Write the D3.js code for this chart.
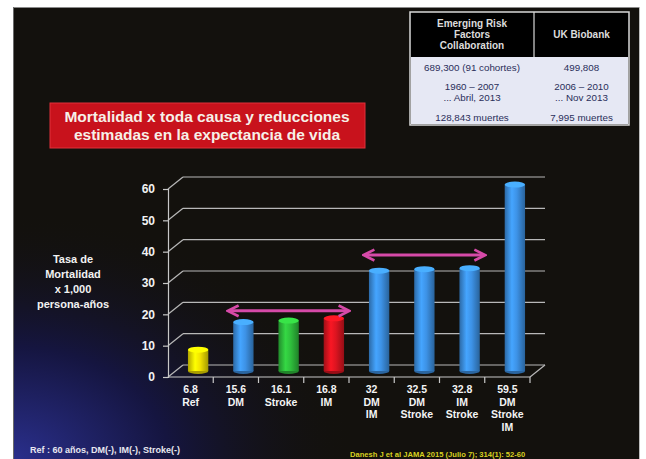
<!DOCTYPE html>
<html>
<head>
<meta charset="utf-8">
<script src="https://cdn.jsdelivr.net/npm/d3@7"></script>
<style>
  html, body { margin: 0; padding: 0; background: #fff; }
  svg { display: block; }
  text { font-family: "Liberation Sans", Arial, sans-serif; }
</style>
</head>
<body>
<svg id="chart" width="646" height="459"></svg>
<script>
// Mortality rate per 1,000 person-years by condition group
const categories = ["Ref", "DM", "Stroke", "IM", "DM IM", "DM Stroke", "IM Stroke", "DM Stroke IM"];
const valueLabels = ["6.8", "15.6", "16.1", "16.8", "32", "32.5", "32.8", "59.5"];
const values = [6.8, 15.6, 16.1, 16.8, 32, 32.5, 32.8, 59.5];
const barColors = ["#f2e200", "#3d92e6", "#2fbf3c", "#dc1420", "#3d92e6", "#3d92e6", "#3d92e6", "#3d92e6"];
const yTicks = [0, 10, 20, 30, 40, 50, 60];
const yTitle = ["Tasa de", "Mortalidad", "x 1,000", "persona-años"];

// Summary table of the two cohorts
const tableHeader = [["Emerging Risk", "Factors", "Collaboration"], ["UK Biobank"]];
const tableRows = [
  [["689,300  (91 cohortes)"], ["499,808"]],
  [["1960  –  2007", "... Abril, 2013"], ["2006  –  2010", "... Nov 2013"]],
  [["128,843  muertes"], ["7,995  muertes"]]
];
const titleLines = ["Mortalidad  x toda causa y reducciones", "estimadas en la expectancia de vida"];
const footNote = "Ref :  60 años,  DM(-), IM(-), Stroke(-)";
const citation = "Danesh J et al JAMA 2015 (Julio 7); 314(1): 52-60";

// Groups joined by the pink double arrows (first, last category, level)
const brackets = [
  { from: "DM", to: "IM", level: 19.2 },
  { from: "DM IM", to: "IM Stroke", level: 37 }
];

const svg = d3.select("#chart");
const defs = svg.append("defs");

// Slide background with a blue glow in the lower left
const bg = defs.append("radialGradient").attr("id", "glow")
  .attr("cx", 0.0).attr("cy", 1.0).attr("r", 0.55);
bg.append("stop").attr("offset", "0%").attr("stop-color", "#2a2f8c");
bg.append("stop").attr("offset", "45%").attr("stop-color", "#151540");
bg.append("stop").attr("offset", "100%").attr("stop-color", "#13110d").attr("stop-opacity", 0);

svg.append("rect").attr("x", 13).attr("y", 7).attr("width", 627).attr("height", 452)
  .attr("fill", "#13110d");
svg.append("rect").attr("x", 13).attr("y", 7).attr("width", 627).attr("height", 452)
  .attr("fill", "url(#glow)");
svg.append("line").attr("x1", 13).attr("x2", 640).attr("y1", 7.5).attr("y2", 7.5)
  .attr("stroke", "#8a8a8a").attr("stroke-width", 1);
svg.append("line").attr("x1", 13.5).attr("x2", 13.5).attr("y1", 7).attr("y2", 459)
  .attr("stroke", "#6a6a6a").attr("stroke-width", 1);
svg.append("line").attr("x1", 639.5).attr("x2", 639.5).attr("y1", 7).attr("y2", 459)
  .attr("stroke", "#bdbdbd").attr("stroke-width", 1);

// ---- Chart geometry ----
const depthX = 15, depthY = -12;   // offset from front plane to back wall
const x = d3.scaleBand().domain(categories).range([168, 530]);
const y = d3.scaleLinear().domain([0, 60]).range([377, 189]);

const chart = svg.append("g");

// Back wall gridlines and the diagonal links to the front axis
chart.append("g").selectAll("line.grid").data(yTicks).join("line")
  .attr("x1", 168 + depthX).attr("x2", 530 + depthX)
  .attr("y1", d => y(d) + depthY).attr("y2", d => y(d) + depthY)
  .attr("stroke", "#b8b8b8").attr("stroke-width", 1.2);
chart.append("g").selectAll("line.diag").data(yTicks).join("line")
  .attr("x1", 168).attr("x2", 168 + depthX)
  .attr("y1", d => y(d)).attr("y2", d => y(d) + depthY)
  .attr("stroke", "#b8b8b8").attr("stroke-width", 1.2);
// right edge of the floor
chart.append("line").attr("x1", 530).attr("x2", 530 + depthX)
  .attr("y1", y(0)).attr("y2", y(0) + depthY)
  .attr("stroke", "#b8b8b8").attr("stroke-width", 1.2);

// Front value axis
const yAxis = chart.append("g").attr("transform", "translate(168,0)")
  .call(d3.axisLeft(y).tickValues(yTicks).tickSize(5).tickPadding(8));
yAxis.select(".domain").attr("stroke", "#c8c8c8").attr("stroke-width", 1.2);
yAxis.selectAll(".tick line").attr("stroke", "#c8c8c8").attr("stroke-width", 1.2);
yAxis.selectAll(".tick text").attr("fill", "#f2f2f2").attr("font-size", 12)
  .attr("font-weight", "bold");

// Front floor edge with ticks at category boundaries
chart.append("line").attr("x1", 168).attr("x2", 530)
  .attr("y1", y(0)).attr("y2", y(0)).attr("stroke", "#c8c8c8").attr("stroke-width", 1.2);
const bounds = categories.map(c => x(c)).concat([x.range()[1]]).slice(1);
chart.append("g").selectAll("line.btick").data(bounds).join("line")
  .attr("x1", d => d).attr("x2", d => d)
  .attr("y1", y(0)).attr("y2", y(0) + 6)
  .attr("stroke", "#c8c8c8").attr("stroke-width", 1.2);

// Category labels: value on the first line, condition names below
const xAxis = chart.append("g").attr("transform", `translate(0,${y(0)})`)
  .call(d3.axisBottom(x).tickSize(0).tickPadding(0));
xAxis.select(".domain").remove();
xAxis.selectAll(".tick text").each(function (d, i) {
  const t = d3.select(this).text(null).attr("fill", "#f4f4f4")
    .attr("font-size", 10.5).attr("font-weight", "bold").attr("dy", null)
    .attr("y", 0);
  const lines = [valueLabels[i]].concat(d.split(" "));
  lines.forEach((s, k) => {
    t.append("tspan").attr("x", 0).attr("y", 16 + k * 12.5).text(s);
  });
});

// Cylinders
const shade = (id, c) => {
  const g = defs.append("linearGradient").attr("id", id).attr("x1", 0).attr("x2", 1);
  const base = d3.color(c);
  g.append("stop").attr("offset", "0%").attr("stop-color", base.darker(0.9));
  g.append("stop").attr("offset", "35%").attr("stop-color", base.brighter(0.35));
  g.append("stop").attr("offset", "60%").attr("stop-color", base);
  g.append("stop").attr("offset", "100%").attr("stop-color", base.darker(1.1));
};
barColors.forEach((c, i) => shade("cyl" + i, c));

const bw = x.bandwidth() * 0.45;
const bx = c => x(c) + x.bandwidth() / 2 + depthX / 2 - bw / 2;
const by = v => y(v) + depthY / 2;
const ry = 3;

const bars = chart.append("g").selectAll("g.bar").data(values).join("g");
bars.append("ellipse")
  .attr("cx", (d, i) => bx(categories[i]) + bw / 2).attr("cy", by(0))
  .attr("rx", bw / 2).attr("ry", ry)
  .attr("fill", (d, i) => d3.color(barColors[i]).darker(1));
bars.append("rect")
  .attr("x", (d, i) => bx(categories[i])).attr("width", bw)
  .attr("y", d => by(d)).attr("height", d => by(0) - by(d))
  .attr("fill", (d, i) => `url(#cyl${i})`);
bars.append("ellipse")
  .attr("cx", (d, i) => bx(categories[i]) + bw / 2).attr("cy", d => by(d))
  .attr("rx", bw / 2).attr("ry", ry)
  .attr("fill", (d, i) => d3.color(barColors[i]).brighter(0.5));

// Double-headed arrows over the grouped bars
const arrowColor = "#d64aa8";
defs.append("marker").attr("id", "head").attr("viewBox", "0 0 10 10")
  .attr("refX", 8).attr("refY", 5).attr("markerWidth", 4.5).attr("markerHeight", 4.5)
  .attr("orient", "auto-start-reverse")
  .append("path").attr("d", "M1,1 L9,5 L1,9").attr("fill", "none")
  .attr("stroke", arrowColor).attr("stroke-width", 2);
chart.append("g").selectAll("line.arrow").data(brackets).join("line")
  .attr("x1", d => bx(d.from) - 4).attr("x2", d => bx(d.to) + bw + 4)
  .attr("y1", d => by(d.level)).attr("y2", d => by(d.level))
  .attr("stroke", arrowColor).attr("stroke-width", 3)
  .attr("marker-start", "url(#head)").attr("marker-end", "url(#head)");

// Y title
svg.append("text").attr("x", 73).attr("text-anchor", "middle")
  .attr("fill", "#f2f2f2").attr("font-size", 11).attr("font-weight", "bold")
  .selectAll("tspan").data(yTitle).join("tspan")
  .attr("x", 73).attr("y", (d, i) => 263 + i * 15).text(d => d);

// Red title banner
svg.append("rect").attr("x", 50).attr("y", 103).attr("width", 315).attr("height", 45)
  .attr("fill", "#c8121c").attr("stroke", "#e0303a").attr("stroke-width", 1);
svg.append("text").attr("text-anchor", "middle").attr("fill", "#f6f0e8")
  .attr("font-size", 15.5).attr("font-weight", "bold")
  .selectAll("tspan").data(titleLines).join("tspan")
  .attr("x", 207).attr("y", (d, i) => 122 + i * 18).text(d => d);

// Cohort table
const tx = 410, tw = 219, split = 534, ty = 12, hh = 45, bh = 68;
const table = svg.append("g");
table.append("rect").attr("x", tx).attr("y", ty).attr("width", tw).attr("height", hh + bh)
  .attr("fill", "#000").attr("stroke", "#d8d8d8").attr("stroke-width", 1.5);
table.append("rect").attr("x", tx + 1).attr("y", ty + hh).attr("width", tw - 2).attr("height", bh - 1)
  .attr("fill", "#e6e8f4");
table.append("line").attr("x1", split).attr("x2", split).attr("y1", ty).attr("y2", ty + hh)
  .attr("stroke", "#d8d8d8").attr("stroke-width", 1.2);
const colCenters = [(tx + split) / 2, (split + tx + tw) / 2];
tableHeader.forEach((lines, c) => {
  const y0 = ty + hh / 2 - (lines.length - 1) * 5.5 + 3.5;
  table.append("text").attr("text-anchor", "middle").attr("fill", "#dcdcdc")
    .attr("font-size", 10).attr("font-weight", "bold")
    .selectAll("tspan").data(lines).join("tspan")
    .attr("x", colCenters[c]).attr("y", (d, i) => y0 + i * 11).text(d => d);
});
const rowY = [[68], [87, 98], [118]];
tableRows.forEach((row, r) => {
  row.forEach((lines, c) => {
    table.append("text").attr("text-anchor", "middle").attr("fill", "#2a2e5a")
      .attr("font-size", 9.8)
      .selectAll("tspan").data(lines).join("tspan")
      .attr("x", colCenters[c]).attr("y", (d, i) => rowY[r][i] + 3).text(d => d);
  });
});

// Footer notes
svg.append("text").attr("x", 30).attr("y", 453).attr("fill", "#e8e8f0")
  .attr("font-size", 9).attr("font-weight", "bold").text(footNote);
svg.append("text").attr("x", 350).attr("y", 457).attr("fill", "#d8d020")
  .attr("font-size", 7.6).attr("font-weight", "bold").text(citation);
</script>
</body>
</html>
